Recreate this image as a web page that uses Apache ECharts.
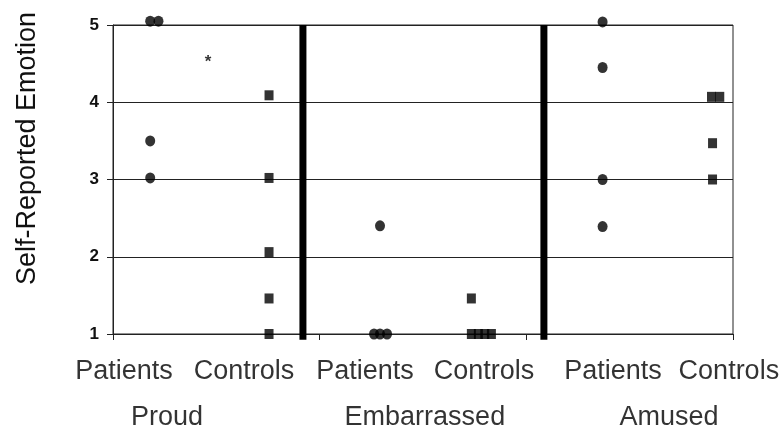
<!DOCTYPE html>
<html>
<head>
<meta charset="utf-8">
<script src="https://cdn.jsdelivr.net/npm/echarts@6/dist/echarts.min.js"></script>
<style>html,body{margin:0;padding:0;background:#fff}#c{width:784px;height:432px}</style>
</head>
<body>
<div id="c"></div>
<script>
// ---- data (x = position within the panel, y = self-reported emotion) ----
const groups = ['Proud', 'Embarrassed', 'Amused'];
const subgroups = ['Patients', 'Controls'];
const yTicks = [1, 2, 3, 4, 5];

const proudPatients = [[0.18, 5.05], [0.22, 5.05], [0.18, 3.5], [0.18, 3.02]];
const proudControls = [[0.755, 4.09], [0.755, 3.02], [0.755, 2.06], [0.755, 1.46], [0.755, 1.0]];
const embPatients = [[1.292, 2.4], [1.263, 1.0], [1.292, 1.0], [1.326, 1.0]];
const embControls = [[1.734, 1.46], [1.734, 1.0], [1.768, 1.0], [1.799, 1.0], [1.831, 1.0]];
const amusedPatients = [[2.369, 5.04], [2.369, 4.45], [2.369, 3.0], [2.369, 2.39]];
const amusedControls = [[2.896, 4.07], [2.936, 4.07], [2.901, 3.47], [2.901, 3.0]];
const significance = [[0.46, 4.52, '*']];

const separators = [0.919, 2.085];
const subLabelPos = [0.053, 0.634, 1.219, 1.795, 2.419, 2.98];
const groupLabelPos = [0.261, 1.509, 2.69];

const patients = [].concat(proudPatients, embPatients, amusedPatients);
const controls = [].concat(proudControls, embControls, amusedControls);

const subLabelData = subLabelPos.map((x, i) => ({ value: [x, 0.51], name: subgroups[i % 2] }));
const groupLabelData = groupLabelPos.map((x, i) => ({ value: [x, -0.08], name: groups[i] }));

const FONT = 'Liberation Sans, Arial, Helvetica, sans-serif';

const sepSeries = separators.map(x => ({
  type: 'line', data: [[x, 0.925], [x, 5]], symbol: 'none', clip: false, silent: true,
  lineStyle: { color: '#000', width: 7 }, z: 5
}));

const chart = echarts.init(document.getElementById('c'), null, { renderer: 'canvas' });
chart.setOption({
  animation: false,
  backgroundColor: '#fff',
  grid: { left: 113, right: 51, top: 25, bottom: 98, show: true, borderColor: '#222', borderWidth: 1, backgroundColor: 'transparent' },
  xAxis: {
    type: 'value', min: 0, max: 3, interval: 1,
    axisLine: { show: true, lineStyle: { color: '#222', width: 1 } },
    axisTick: { show: true, length: 6, lineStyle: { color: '#222' } },
    axisLabel: { show: false },
    splitLine: { show: false }
  },
  yAxis: {
    type: 'value', min: yTicks[0], max: yTicks[yTicks.length - 1], interval: 1,
    name: 'Self-Reported Emotion', nameLocation: 'middle', nameGap: 72,
    nameTextStyle: { fontFamily: FONT, fontSize: 27, color: '#111', padding: [0, 0, 0, 62] },
    axisLine: { show: true, lineStyle: { color: '#222', width: 1 } },
    axisTick: { show: true, length: 6, lineStyle: { color: '#222' } },
    axisLabel: { fontFamily: FONT, fontSize: 17, fontWeight: 'bold', color: '#111', margin: 14 },
    splitLine: { show: true, lineStyle: { color: '#222', width: 1 } }
  },
  series: [
    ...sepSeries,
    { name: 'Patients', type: 'scatter', data: patients, symbol: 'circle', symbolSize: [10, 11], clip: false,
      itemStyle: { color: '#000' }, z: 6 },
    { name: 'Controls', type: 'scatter', data: controls, symbol: 'rect', symbolSize: [9, 10], clip: false,
      itemStyle: { color: '#000' }, z: 6 },
    { type: 'scatter', data: significance, symbolSize: 0, clip: false, silent: true,
      label: { show: true, position: 'inside', formatter: p => p.value[2], fontFamily: FONT, fontSize: 17, fontWeight: 'bold', color: '#000' } },
    { type: 'scatter', data: subLabelData, symbolSize: 0, clip: false, silent: true,
      label: { show: true, position: 'inside', formatter: '{b}', fontFamily: FONT, fontSize: 27, color: '#000' } },
    { type: 'scatter', data: groupLabelData, symbolSize: 0, clip: false, silent: true,
      label: { show: true, position: 'inside', formatter: '{b}', fontFamily: FONT, fontSize: 27, color: '#000' } }
  ]
});
</script>
</body>
</html>
